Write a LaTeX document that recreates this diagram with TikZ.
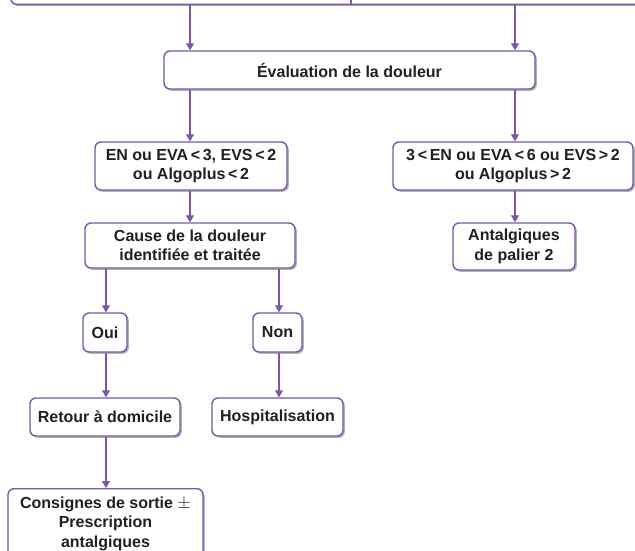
\documentclass[tikz,border=0pt]{standalone}
\usepackage{fontspec}
\setmainfont{Liberation Sans}
\usetikzlibrary{arrows.meta,shadows}
\definecolor{purp}{RGB}{124,84,170}
\definecolor{ink}{RGB}{35,31,32}
\tikzset{
  box/.style={draw=purp, line width=1.4pt, fill=white, rounded corners=6pt,
    align=center, inner sep=0pt, text=ink,
    font=\fontsize{16}{19.5}\selectfont\bfseries,
    drop shadow={shadow xshift=1.8pt, shadow yshift=-1.8pt, fill=black!55, opacity=0.55}},
  arr/.style={draw=purp, line width=1.1pt, -{Triangle[width=8pt,length=7pt]}},
  divider/.style={draw=purp, line width=1.1pt}
}
\begin{document}
\begin{tikzpicture}[x={(1pt,0)}, y={(0,-1pt)}]
\useasboundingbox (0,0) rectangle (635,550);
% column positions of the vertical connectors
\coordinate (cA) at (190,0);
\coordinate (cB) at (515,0);
\coordinate (cC) at (106,0);
\coordinate (cD) at (279,0);
\coordinate (cM) at (351,0);
% partly visible header box, split in the middle
\node[box, minimum width=660pt, minimum height=60pt, anchor=south west] (top) at (10,5) {};
\draw[divider] (top.south -| cM) -- ++(0,-10);
% boxes
\node[box, minimum width=371pt, minimum height=38pt] (eval) at (349.5,70) {Évaluation de la douleur};
\node[box, minimum width=192pt, minimum height=48pt] (lowL) at (191,166) {EN ou EVA\,<\,3, EVS\,<\,2\\ou Algoplus\,<\,2};
\node[box, minimum width=240pt, minimum height=48pt] (lowR) at (513,166) {3\,<\,EN ou EVA\,<\,6 ou EVS\,>\,2\\ou Algoplus\,>\,2};
\node[box, minimum width=210pt, minimum height=45pt] (cause) at (190,245.5) {Cause de la douleur\\identifiée et traitée};
\node[box, minimum width=122pt, minimum height=47pt] (antal) at (514,246.5) {Antalgiques\\de palier 2};
\node[box, minimum width=44pt, minimum height=39pt] (oui) at (105,332.5) {Oui};
\node[box, minimum width=49pt, minimum height=39pt] (non) at (277.5,332.5) {Non};
\node[box, minimum width=150pt, minimum height=38pt] (retour) at (105,417) {Retour à domicile};
\node[box, minimum width=131pt, minimum height=38pt] (hosp) at (277.5,417) {Hospitalisation};
\node[box, minimum width=195pt, minimum height=70pt, anchor=north] (cons) at (105.5,488) {Consignes de sortie $\pm$\\Prescription\\antalgiques};
% connectors
\draw[arr] (top.south -| cA) -- (eval.north -| cA);
\draw[arr] (top.south -| cB) -- (eval.north -| cB);
\draw[arr] (eval.south -| cA) -- (lowL.north -| cA);
\draw[arr] (eval.south -| cB) -- (lowR.north -| cB);
\draw[arr] (lowL.south -| cA) -- (cause.north -| cA);
\draw[arr] (lowR.south -| cB) -- (antal.north -| cB);
\draw[arr] (cause.south -| cC) -- (oui.north -| cC);
\draw[arr] (cause.south -| cD) -- (non.north -| cD);
\draw[arr] (oui.south -| cC) -- (retour.north -| cC);
\draw[arr] (non.south -| cD) -- (hosp.north -| cD);
\draw[arr] (retour.south -| cC) -- (cons.north -| cC);
\end{tikzpicture}
\end{document}
